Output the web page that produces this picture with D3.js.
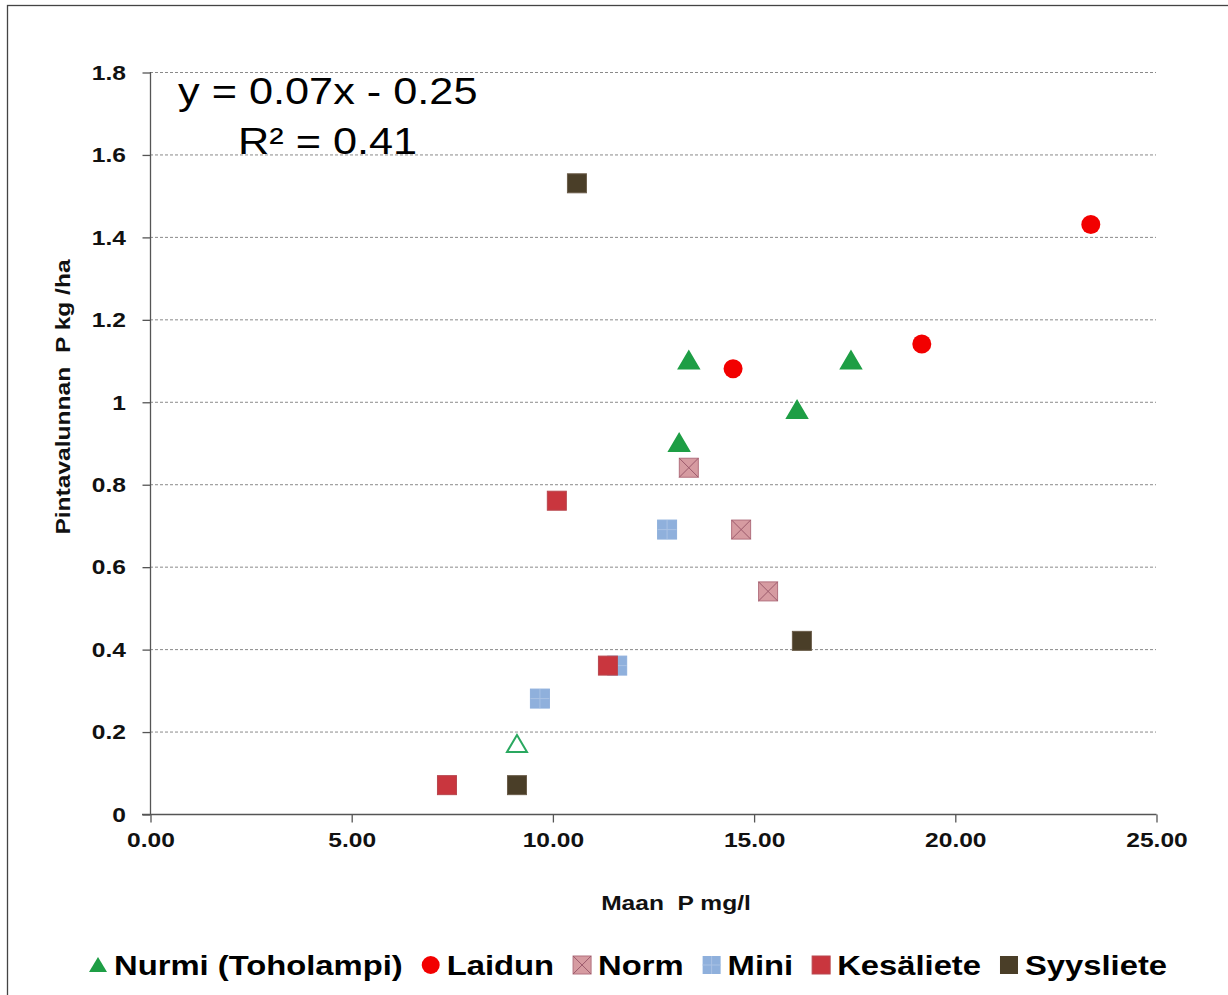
<!DOCTYPE html>
<html>
<head>
<meta charset="utf-8">
<script src="https://cdn.jsdelivr.net/npm/d3@7"></script>
<style>
  body { margin: 0; background: #fff; }
  svg { display: block; font-family: "Liberation Sans", Arial, sans-serif; }
</style>
</head>
<body>
<svg width="1228" height="995"></svg>
<script>
// data: [Maan P mg/l, Pintavalunnan P kg/ha]
var nurmi = [[13.39, 1.10], [13.15, 0.90], [16.08, 0.98], [17.42, 1.10]];
var nurmiOpen = [[9.12, 0.17]];
var laidun = [[14.49, 1.08], [19.18, 1.14], [23.38, 1.43]];
var norm = [[13.39, 0.84], [14.69, 0.69], [15.36, 0.54]];
var mini = [[12.85, 0.69], [9.69, 0.28], [11.61, 0.36]];
var kesaliete = [[10.11, 0.76], [11.38, 0.36], [7.38, 0.07]];
var syysliete = [[10.61, 1.53], [16.20, 0.42], [9.12, 0.07]];

var yTicks = [0, 0.2, 0.4, 0.6, 0.8, 1, 1.2, 1.4, 1.6, 1.8];
var xTicks = [0, 5, 10, 15, 20, 25];
var legendNames = ['Nurmi (Toholampi)', 'Laidun', 'Norm', 'Mini', 'Kesäliete', 'Syysliete'];

// the original text is drawn a bit wider than Liberation Sans
var stretch = 1.17;

var svg = d3.select('svg');

// outer frame (right/bottom edge cut off in the original)
svg.append('rect')
    .attr('x', 7.5).attr('y', 5.5)
    .attr('width', 1260).attr('height', 1020)
    .style('fill', 'none').style('stroke', '#444').style('stroke-width', 1.3);

var x = d3.scaleLinear().domain([0, 25]).range([150, 1156]);
var y = d3.scaleLinear().domain([0, 1.8]).range([814, 72]);

// gridlines
svg.append('g').selectAll('line')
    .data(yTicks.filter(function(d){ return d > 0; }))
    .join('line')
    .attr('x1', 150).attr('x2', 1156)
    .attr('y1', function(d){ return y(d) + 0.5; })
    .attr('y2', function(d){ return y(d) + 0.5; })
    .style('stroke', '#8a8a8a').style('stroke-dasharray', '3 2');

// axes
var yAxis = d3.axisLeft(y).tickValues(yTicks).tickSize(8).tickPadding(13)
    .tickFormat(function(d){ return d === 0 || d === 1 ? d : d3.format('.1f')(d); });
svg.append('g').attr('transform', 'translate(150.5,0.5)').call(yAxis);

var xAxis = d3.axisBottom(x).tickValues(xTicks).tickSize(8).tickPadding(10)
    .tickFormat(d3.format('.2f'));
svg.append('g').attr('transform', 'translate(0.5,814.5)').call(xAxis);

svg.selectAll('.domain').remove();
svg.append('line').attr('x1', 150.5).attr('x2', 150.5).attr('y1', 72).attr('y2', 814)
    .style('stroke', '#555').style('stroke-width', 1.3);
svg.append('line').attr('x1', 142).attr('x2', 1156.5).attr('y1', 814.5).attr('y2', 814.5)
    .style('stroke', '#555').style('stroke-width', 1.3);
svg.selectAll('.tick line').style('stroke', '#555').style('stroke-width', 1.3);
svg.selectAll('.tick text')
    .attr('transform', 'scale(' + stretch + ',1)')
    .style('font-family', '"Liberation Sans", Arial, sans-serif')
    .style('font-size', '21px').style('font-weight', 'bold').style('fill', '#111');

// axis titles
svg.append('text')
    .attr('transform', 'translate(676,910) scale(' + stretch + ',1)')
    .attr('text-anchor', 'middle')
    .style('font-size', '21px').style('font-weight', 'bold').style('fill', '#111')
    .style('white-space', 'pre')
    .text('Maan  P mg/l');

svg.append('text')
    .attr('transform', 'translate(70,397) rotate(-90) scale(' + stretch + ',1)')
    .attr('text-anchor', 'middle')
    .style('font-size', '21px').style('font-weight', 'bold').style('fill', '#111')
    .style('white-space', 'pre')
    .text('Pintavalunnan  P kg /ha');

// trendline equation
svg.append('text')
    .attr('transform', 'translate(178,104) scale(' + stretch + ',1)')
    .style('font-size', '37px').style('fill', '#000')
    .text('y = 0.07x - 0.25');
svg.append('text')
    .attr('transform', 'translate(238,154) scale(' + stretch + ',1)')
    .style('font-size', '37px').style('fill', '#000')
    .text('R² = 0.41');

// marker drawing helpers
var sq = 19;
function squares(data, fill, stroke, inner) {
    var g = svg.append('g').selectAll('g')
        .data(data)
        .join('g')
        .attr('transform', function(d){ return 'translate(' + x(d[0]) + ',' + y(d[1]) + ')'; });
    g.append('rect')
        .attr('x', -sq / 2).attr('y', -sq / 2)
        .attr('width', sq).attr('height', sq)
        .style('fill', fill).style('stroke', stroke).style('stroke-width', 1);
    if (inner === 'x') {
        g.append('path').attr('d', 'M' + (-sq/2) + ',' + (-sq/2) + 'L' + (sq/2) + ',' + (sq/2) +
            'M' + (sq/2) + ',' + (-sq/2) + 'L' + (-sq/2) + ',' + (sq/2))
            .style('stroke', '#9c5a6c').style('stroke-width', 1);
    }
    if (inner === '+') {
        g.append('path').attr('d', 'M0,' + (-sq/2) + 'V' + (sq/2) + 'M' + (-sq/2) + ',0H' + (sq/2))
            .style('stroke', '#a9c2e4').style('stroke-width', 1);
    }
}

function triangles(data, fill, stroke) {
    svg.append('g').selectAll('path')
        .data(data)
        .join('path')
        .attr('transform', function(d){ return 'translate(' + x(d[0]) + ',' + y(d[1]) + ')'; })
        .attr('d', 'M0,-9L10,8L-10,8Z')
        .style('fill', fill).style('stroke', stroke).style('stroke-width', 2);
}

squares(mini, '#8fb0dc', '#8fb0dc', '+');
squares(kesaliete, '#c9363e', '#b8464e', null);
squares(norm, '#d69ba1', '#b2707e', 'x');
squares(syysliete, '#4a3e28', '#6b5d4a', null);
triangles(nurmi, '#1e9e45', '#1e9e45');
triangles(nurmiOpen, '#fff', '#2aa860');

svg.append('g').selectAll('circle')
    .data(laidun)
    .join('circle')
    .attr('cx', function(d){ return x(d[0]); })
    .attr('cy', function(d){ return y(d[1]); })
    .attr('r', 9.5)
    .style('fill', '#f20000');

// legend
var legend = svg.append('g');
var lx = 89, ly = 965;
var legendMarkers = [
    function(g){ g.append('path').attr('d', 'M0,-8L9,7L-9,7Z').style('fill', '#1e9e45'); },
    function(g){ g.append('circle').attr('r', 9).style('fill', '#f20000'); },
    function(g){
        g.append('rect').attr('x', -9).attr('y', -9).attr('width', 18).attr('height', 18)
            .style('fill', '#d69ba1').style('stroke', '#b2707e');
        g.append('path').attr('d', 'M-9,-9L9,9M9,-9L-9,9').style('stroke', '#9c5a6c');
    },
    function(g){
        g.append('rect').attr('x', -9).attr('y', -9).attr('width', 18).attr('height', 18)
            .style('fill', '#8fb0dc');
        g.append('path').attr('d', 'M0,-9V9M-9,0H9').style('stroke', '#a9c2e4');
    },
    function(g){ g.append('rect').attr('x', -9).attr('y', -9).attr('width', 18).attr('height', 18)
            .style('fill', '#c9363e').style('stroke', '#b8464e'); },
    function(g){ g.append('rect').attr('x', -9).attr('y', -9).attr('width', 18).attr('height', 18)
            .style('fill', '#4a3e28'); }
];
legendNames.forEach(function(name, i){
    var item = legend.append('g').attr('transform', 'translate(' + lx + ',' + ly + ')');
    var m = item.append('g').attr('transform', 'translate(9,0)');
    legendMarkers[i](m);
    var t = item.append('text')
        .attr('transform', 'translate(25,10) scale(' + stretch + ',1)')
        .style('font-size', '28px').style('font-weight', 'bold').style('fill', '#000')
        .text(name);
    lx += 25 + t.node().getComputedTextLength() * stretch + 19;
});
</script>
</body>
</html>
